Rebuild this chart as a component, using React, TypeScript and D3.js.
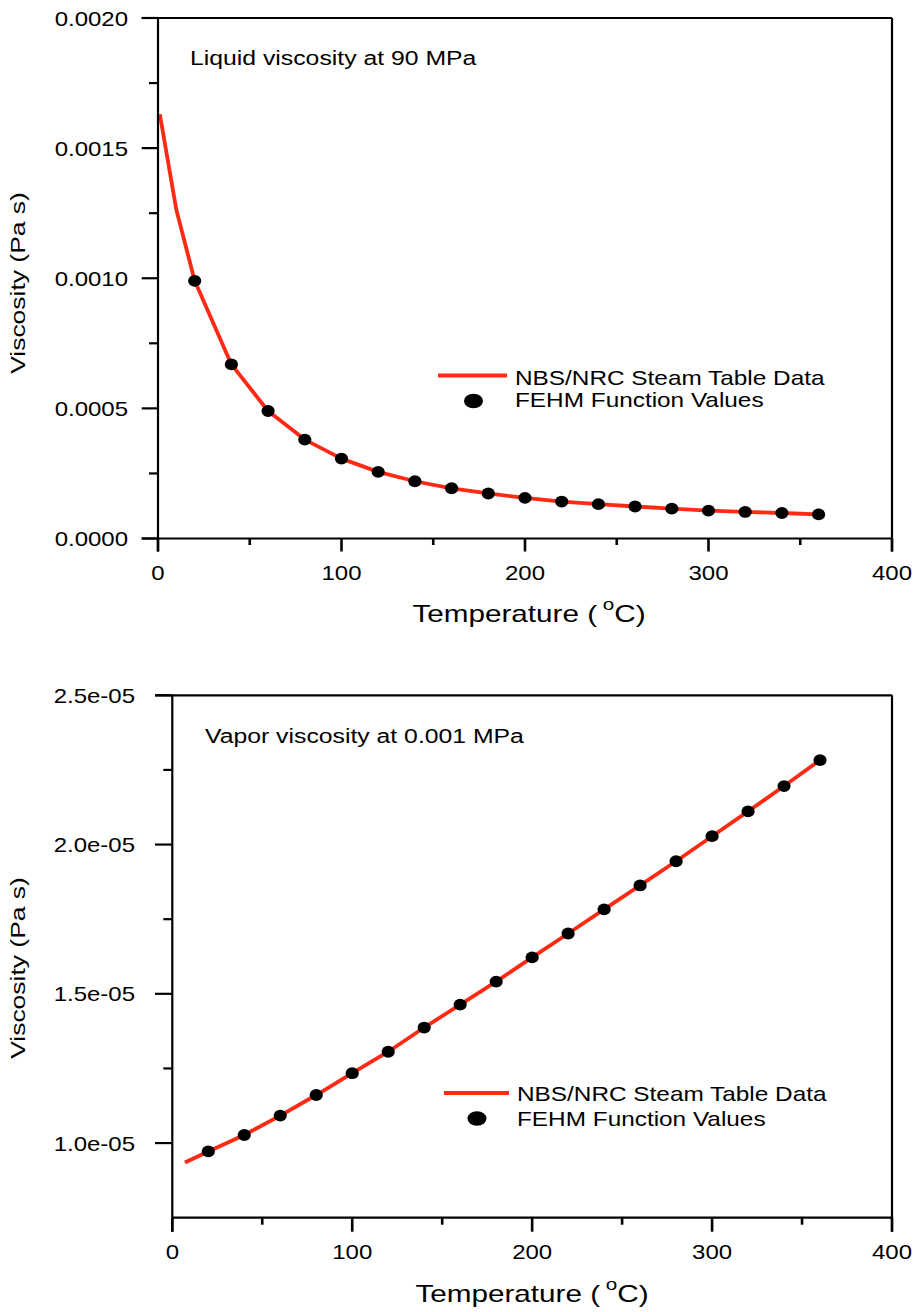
import React from "react";
import * as d3 from "d3";

// ---------- DATA ----------
// Liquid viscosity at 90 MPa (Pa s)
const liquidLineT = [1, 10, 20, 40, 60, 80, 100, 120, 140, 160, 180, 200, 220, 240, 260, 280, 300, 320, 340, 360];
const liquidLineV = [0.00163, 0.001263, 0.00099, 0.000669, 0.00049, 0.00038, 0.000307, 0.000256, 0.00022, 0.000193, 0.000173, 0.000156, 0.000142, 0.000132, 0.000123, 0.000115, 0.000107, 0.000102, 0.000098, 0.0000925];
const liquidDotT = [20, 40, 60, 80, 100, 120, 140, 160, 180, 200, 220, 240, 260, 280, 300, 320, 340, 360];
const liquidDotV = [0.00099, 0.000669, 0.00049, 0.00038, 0.000307, 0.000256, 0.00022, 0.000193, 0.000173, 0.000156, 0.000142, 0.000132, 0.000123, 0.000115, 0.000107, 0.000102, 0.000098, 0.0000925];

// Vapor viscosity at 0.001 MPa (Pa s)
const vaporLineT = [7, 20, 40, 60, 80, 100, 120, 140, 160, 180, 200, 220, 240, 260, 280, 300, 320, 340, 360];
const vaporLineV = [0.935e-5, 0.972e-5, 1.027e-5, 1.092e-5, 1.161e-5, 1.234e-5, 1.306e-5, 1.387e-5, 1.464e-5, 1.541e-5, 1.622e-5, 1.702e-5, 1.783e-5, 1.863e-5, 1.944e-5, 2.028e-5, 2.111e-5, 2.196e-5, 2.283e-5];
const vaporDotT = [20, 40, 60, 80, 100, 120, 140, 160, 180, 200, 220, 240, 260, 280, 300, 320, 340, 360];
const vaporDotV = [0.972e-5, 1.027e-5, 1.092e-5, 1.161e-5, 1.234e-5, 1.306e-5, 1.387e-5, 1.464e-5, 1.541e-5, 1.622e-5, 1.702e-5, 1.783e-5, 1.863e-5, 1.944e-5, 2.028e-5, 2.111e-5, 2.196e-5, 2.283e-5];

// Axes
const xMajorTicks = [0, 100, 200, 300, 400];
const xMajorLabels = ["0", "100", "200", "300", "400"];
const xMinorTicks = [50, 150, 250, 350];

const liquidYMajor = [0, 0.0005, 0.001, 0.0015, 0.002];
const liquidYLabels = ["0.0000", "0.0005", "0.0010", "0.0015", "0.0020"];
const liquidYMinor = [0.00025, 0.00075, 0.00125, 0.00175];

const vaporYMajor = [1.0e-5, 1.5e-5, 2.0e-5, 2.5e-5];
const vaporYLabels = ["1.0e-05", "1.5e-05", "2.0e-05", "2.5e-05"];
const vaporYMinor = [1.25e-5, 1.75e-5, 2.25e-5];

const legendLineLabel = "NBS/NRC Steam Table Data";
const legendDotLabel = "FEHM Function Values";
const yAxisTitle = "Viscosity (Pa s)";

// ---------- STYLE ----------
const FONT = "'Liberation Sans', Arial, Helvetica, sans-serif";
const RED = "#ff2a14";

type PanelProps = {
  xr: [number, number];
  yr: [number, number];
  yDomain: [number, number];
  yMajor: number[];
  yLabels: string[];
  yMinor: number[];
  lineT: number[];
  lineV: number[];
  dotT: number[];
  dotV: number[];
  title: string;
  titleX: number;
  titleY: number;
  yLabelRight: number;
  yMajorLen: number;
  xMajorLen: number;
  xMinorLen: number;
  legend: { lx0: number; lx1: number; ly: number; tx: number; t1y: number; t2y: number; dx: number; dy: number };
  xTitleX: number;
  xTitleY: number;
  yTitleX: number;
  yTitleY: number;
};

function Panel(p: PanelProps) {
  const x = d3.scaleLinear().domain([0, 400]).range(p.xr);
  const y = d3.scaleLinear().domain(p.yDomain).range(p.yr);
  const line = d3
    .line<number>()
    .x((_, i) => x(p.lineT[i]))
    .y((v) => y(v));
  const [x0, x1] = p.xr;
  const [yb, yt] = p.yr;
  const axisW = 2.2;
  const tickW = 2.6;
  const bottomIsMajor = p.yMajor.includes(p.yDomain[0]);
  const topIsMajor = p.yMajor.includes(p.yDomain[1]);
  return (
    <g>
      {/* data line */}
      <path d={line(p.lineV) || ""} fill="none" stroke={RED} strokeWidth={3.8} strokeLinejoin="round" />
      {/* dots */}
      {p.dotV.map((v, i) => (
        <ellipse key={i} cx={x(p.dotT[i])} cy={y(v)} rx={6.6} ry={5.9} fill="#000" />
      ))}
      {/* frame */}
      <line x1={x0} x2={x0} y1={yt} y2={yb + p.xMajorLen} stroke="#000" strokeWidth={axisW} />
      <line x1={bottomIsMajor ? x0 - p.yMajorLen : x0} x2={x1} y1={yb} y2={yb} stroke="#000" strokeWidth={axisW} />
      <line x1={topIsMajor ? x0 - p.yMajorLen : x0} x2={x1} y1={yt} y2={yt} stroke="#000" strokeWidth={axisW} />
      <line x1={x1} x2={x1} y1={yt} y2={yb + p.xMajorLen} stroke="#000" strokeWidth={axisW} />
      {/* x ticks */}
      {xMajorTicks.map((t, i) => (
        <g key={"xm" + i}>
          <line x1={x(t)} x2={x(t)} y1={yb} y2={yb + p.xMajorLen} stroke="#000" strokeWidth={tickW} />
          <text
            transform={`translate(${x(t)},${yb + 41}) scale(1.2,1)`}
            textAnchor="middle"
            fontFamily={FONT}
            fontSize={20}
            fill="#000"
          >
            {xMajorLabels[i]}
          </text>
        </g>
      ))}
      {xMinorTicks.map((t, i) => (
        <line key={"xn" + i} x1={x(t)} x2={x(t)} y1={yb} y2={yb + p.xMinorLen} stroke="#000" strokeWidth={tickW} />
      ))}
      {/* y ticks */}
      {p.yMajor.map((v, i) => (
        <g key={"ym" + i}>
          <line x1={x0 - p.yMajorLen} x2={x0} y1={y(v)} y2={y(v)} stroke="#000" strokeWidth={axisW} />
          <text
            transform={`translate(${p.yLabelRight},${y(v) + 7.5}) scale(1.2,1)`}
            textAnchor="end"
            fontFamily={FONT}
            fontSize={20}
            fill="#000"
          >
            {p.yLabels[i]}
          </text>
        </g>
      ))}
      {p.yMinor.map((v, i) => (
        <line key={"yn" + i} x1={x0 - 9} x2={x0} y1={y(v)} y2={y(v)} stroke="#000" strokeWidth={axisW} />
      ))}
      {/* title */}
      <text transform={`translate(${p.titleX},${p.titleY}) scale(1.18,1)`} fontFamily={FONT} fontSize={21} fill="#000">
        {p.title}
      </text>
      {/* legend */}
      <line x1={p.legend.lx0} x2={p.legend.lx1} y1={p.legend.ly} y2={p.legend.ly} stroke={RED} strokeWidth={3.8} />
      <text transform={`translate(${p.legend.tx},${p.legend.t1y}) scale(1.16,1)`} fontFamily={FONT} fontSize={21} fill="#000">
        {legendLineLabel}
      </text>
      <ellipse cx={p.legend.dx} cy={p.legend.dy} rx={9.5} ry={7.3} fill="#000" />
      <text transform={`translate(${p.legend.tx},${p.legend.t2y}) scale(1.16,1)`} fontFamily={FONT} fontSize={21} fill="#000">
        {legendDotLabel}
      </text>
      {/* x title */}
      <text
        transform={`translate(${p.xTitleX},${p.xTitleY}) scale(1.29,1)`}
        textAnchor="middle"
        fontFamily={FONT}
        fontSize={23}
        fill="#000"
      >
        Temperature (
        <tspan fontSize={16} dy={-12}>
          {" o"}
        </tspan>
        <tspan dy={12}>C)</tspan>
      </text>
      {/* y title */}
      <text
        transform={`translate(${p.yTitleX},${p.yTitleY}) rotate(-90) scale(1.26,1)`}
        textAnchor="middle"
        fontFamily={FONT}
        fontSize={21}
        fill="#000"
      >
        {yAxisTitle}
      </text>
    </g>
  );
}

export default function App() {
  return (
    <svg
      width={919}
      height={1312}
      viewBox="0 0 919 1312"
      style={{ position: "absolute", left: 0, top: 0, background: "#fff" }}
    >
      <rect x={0} y={0} width={919} height={1312} fill="#fff" />
      <Panel
        xr={[158, 892]}
        yr={[538.5, 18]}
        yDomain={[0, 0.002]}
        yMajor={liquidYMajor}
        yLabels={liquidYLabels}
        yMinor={liquidYMinor}
        lineT={liquidLineT}
        lineV={liquidLineV}
        dotT={liquidDotT}
        dotV={liquidDotV}
        title="Liquid viscosity at 90 MPa"
        titleX={190}
        titleY={65}
        yLabelRight={128}
        yMajorLen={16.3}
        xMajorLen={13}
        xMinorLen={6.5}
        legend={{ lx0: 438, lx1: 507, ly: 375.5, tx: 515, t1y: 385, t2y: 407, dx: 473.5, dy: 401 }}
        xTitleX={529}
        xTitleY={622}
        yTitleX={25}
        yTitleY={283}
      />
      <Panel
        xr={[172.3, 892]}
        yr={[1217.7, 695.3]}
        yDomain={[0.75e-5, 2.5e-5]}
        yMajor={vaporYMajor}
        yLabels={vaporYLabels}
        yMinor={vaporYMinor}
        lineT={vaporLineT}
        lineV={vaporLineV}
        dotT={vaporDotT}
        dotV={vaporDotV}
        title="Vapor viscosity at 0.001 MPa"
        titleX={205}
        titleY={743}
        yLabelRight={135}
        yMajorLen={17.3}
        xMajorLen={14}
        xMinorLen={7}
        legend={{ lx0: 444, lx1: 509, ly: 1093, tx: 517, t1y: 1101, t2y: 1126, dx: 477, dy: 1118.5 }}
        xTitleX={532}
        xTitleY={1302}
        yTitleX={25}
        yTitleY={968}
      />
    </svg>
  );
}
